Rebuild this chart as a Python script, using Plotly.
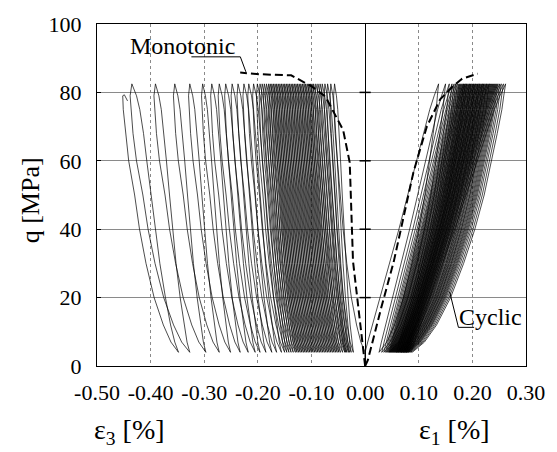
import plotly.graph_objects as go

# ---------------- data ----------------
# stress levels at which each loading / unloading branch is sampled [MPa]
q_levels = [4, 7, 12, 20, 30, 40, 50, 60, 68, 75, 79, 82.5]

# lateral strain eps3 [%]: top (peak) of each cycle and bottom reached after unloading
e3_top = [-0.057, -0.064, -0.070, -0.075, -0.080, -0.084, -0.088, -0.092, -0.096, -0.099,
          -0.102, -0.105, -0.108, -0.111, -0.114, -0.117, -0.120, -0.123, -0.126, -0.129,
          -0.132, -0.135, -0.138, -0.141, -0.144, -0.147, -0.150, -0.153, -0.156, -0.159,
          -0.162, -0.165, -0.168, -0.171, -0.174, -0.177, -0.180, -0.184, -0.188, -0.192,
          -0.196, -0.201, -0.208, -0.217, -0.226, -0.237, -0.248, -0.260, -0.272, -0.286,
          -0.303, -0.327, -0.355, -0.391, -0.435]
e3_bot = [-0.022, -0.026, -0.029, -0.031, -0.034, -0.036, -0.038, -0.042, -0.046, -0.049,
          -0.052, -0.055, -0.058, -0.061, -0.064, -0.067, -0.070, -0.073, -0.076, -0.079,
          -0.082, -0.085, -0.088, -0.091, -0.094, -0.097, -0.100, -0.103, -0.106, -0.109,
          -0.112, -0.115, -0.118, -0.121, -0.124, -0.127, -0.130, -0.134, -0.138, -0.142,
          -0.146, -0.150, -0.156, -0.165, -0.174, -0.185, -0.196, -0.205, -0.218, -0.233,
          -0.251, -0.272, -0.297, -0.327, -0.348]
e3_fail_strain = [-0.449, -0.443]
e3_fail_q = [79.3, 77.5]

# axial strain eps1 [%]: top of each cycle and bottom reached after unloading
e1_top = [0.137, 0.150, 0.157, 0.162, 0.166, 0.169, 0.172, 0.175, 0.177, 0.179,
          0.181, 0.183, 0.184, 0.186, 0.187, 0.189, 0.190, 0.192, 0.194, 0.195,
          0.197, 0.198, 0.200, 0.202, 0.203, 0.205, 0.206, 0.208, 0.210, 0.211,
          0.213, 0.214, 0.216, 0.218, 0.219, 0.221, 0.222, 0.224, 0.226, 0.227,
          0.229, 0.231, 0.232, 0.234, 0.236, 0.238, 0.240, 0.242, 0.244, 0.246,
          0.248, 0.251, 0.254, 0.258, 0.262]
e1_bot = [0.026, 0.031, 0.035, 0.038, 0.040, 0.042, 0.044, 0.045, 0.046, 0.047,
          0.048, 0.049, 0.050, 0.051, 0.052, 0.053, 0.054, 0.055, 0.056, 0.057,
          0.058, 0.059, 0.059, 0.060, 0.061, 0.062, 0.062, 0.063, 0.064, 0.065,
          0.065, 0.066, 0.067, 0.068, 0.068, 0.069, 0.070, 0.071, 0.071, 0.072,
          0.073, 0.074, 0.074, 0.075, 0.076, 0.077, 0.077, 0.078, 0.079, 0.080,
          0.081, 0.082, 0.084, 0.086, 0.088]

# branch shapes read from a representative loop (fractions at each q level)
e3_load_shape = [1.0, 0.86, 0.72, 0.55, 0.40, 0.28, 0.19, 0.08, 0.02, -0.02, -0.03, 0.0]
e3_unload_shape = [1.0, 0.92, 0.83, 0.72, 0.60, 0.50, 0.41, 0.32, 0.25, 0.17, 0.10, 0.0]
e1_load_shape = [0.0, 0.035, 0.10, 0.20, 0.33, 0.46, 0.58, 0.70, 0.79, 0.88, 0.94, 1.0]
e1_unload_shape = [0.0, 0.13, 0.26, 0.41, 0.55, 0.67, 0.77, 0.85, 0.91, 0.96, 0.98, 1.0]

# monotonic test curves
mono_e3 = [0.0, -0.006, -0.012, -0.0226, -0.0287, -0.041, -0.074, -0.099, -0.138, -0.172, -0.196, -0.233]
mono_q3 = [0.0, 8.0, 15.0, 30.6, 59.5, 69.0, 78.8, 81.7, 85.0, 85.2, 85.3, 85.8]
mono_e1 = [0.0, 0.005, 0.030, 0.0535, 0.090, 0.115, 0.140, 0.163, 0.181, 0.210]
mono_q1 = [0.0, 1.7, 17.0, 30.6, 56.6, 70.0, 78.0, 81.7, 84.0, 85.5]

x_ticks = [-0.5, -0.4, -0.3, -0.2, -0.1, 0.0, 0.1, 0.2, 0.3]
x_ticktext = ["-0.50", "-0.40", "-0.30", "-0.20", "-0.10", "0.00", "0.10", "0.20", "0.30"]
y_ticks = [0, 20, 40, 60, 80, 100]

# ---------------- build cyclic paths ----------------
lx, ly = [0.0], [0.0]
prev_b = 0.0
for t, b in zip(e3_top, e3_bot):
    for q, f in zip(q_levels, e3_load_shape):
        lx.append(t + f * (prev_b - t)); ly.append(q)
    for q, f in reversed(list(zip(q_levels, e3_unload_shape))):
        lx.append(t + f * (b - t)); ly.append(q)
    prev_b = b
t_fail = e3_fail_strain[0]
for q, f in zip(q_levels, e3_load_shape):
    if q < e3_fail_q[0]:
        lx.append(t_fail + f * (prev_b - t_fail)); ly.append(q)
lx += e3_fail_strain
ly += e3_fail_q

rx, ry = [0.0], [0.0]
prev_b = 0.0
for t, b in zip(e1_top, e1_bot):
    for q, f in zip(q_levels, e1_load_shape):
        rx.append(prev_b + f * (t - prev_b)); ry.append(q)
    for q, f in reversed(list(zip(q_levels, e1_unload_shape))):
        rx.append(b + f * (t - b)); ry.append(q)
    prev_b = b

FONT = "Liberation Serif"

fig = go.Figure()
line_style = dict(color="black", width=0.7)
fig.add_trace(go.Scatter(x=lx, y=ly, mode="lines", line=line_style, hoverinfo="skip"))
fig.add_trace(go.Scatter(x=rx, y=ry, mode="lines", line=line_style, hoverinfo="skip"))
dash_style = dict(color="black", width=2, dash="8px,4px")
fig.add_trace(go.Scatter(x=mono_e3, y=mono_q3, mode="lines", line=dash_style, hoverinfo="skip"))
fig.add_trace(go.Scatter(x=mono_e1, y=mono_q1, mode="lines", line=dash_style, hoverinfo="skip"))
# small ticks on the zero line
fig.add_trace(go.Scatter(x=[0.0] * 4, y=y_ticks[1:5], mode="markers",
                         marker=dict(symbol="line-ew", size=8, line=dict(color="black", width=1.5)),
                         hoverinfo="skip"))

fig.update_layout(
    width=557, height=452, autosize=False,
    margin=dict(l=97, r=22, t=20, b=86, pad=0),
    paper_bgcolor="white", plot_bgcolor="white",
    showlegend=False,
    font=dict(family=FONT, color="black", size=22),
    xaxis=dict(range=[-0.5, 0.3], tickvals=x_ticks, ticktext=x_ticktext,
               showgrid=True, gridcolor="#8a8a8a", gridwidth=1, griddash="dot",
               zeroline=True, zerolinecolor="black", zerolinewidth=1.2,
               showline=True, linecolor="black", linewidth=1.2, mirror=True,
               ticks="", ticklabelstandoff=6,
               tickfont=dict(family=FONT, size=22, color="black")),
    yaxis=dict(range=[0, 100], tickvals=y_ticks,
               showgrid=True, gridcolor="#8a8a8a", gridwidth=1,
               zeroline=False,
               showline=True, linecolor="black", linewidth=1.2, mirror=True,
               ticks="inside", ticklen=4, tickcolor="black",
               ticklabelstandoff=10,
               tickfont=dict(family=FONT, size=22, color="black")),
    annotations=[
        dict(text="q [MPa]", xref="paper", yref="paper", x=-0.153, y=0.4855,
             textangle=-90, showarrow=False, font=dict(family=FONT, size=26),
             xanchor="center", yanchor="middle"),
        dict(text="ε<sub>3</sub> [%]", xref="paper", yref="paper", x=0.075, y=-0.191,
             showarrow=False, font=dict(family=FONT, size=28),
             xanchor="center", yanchor="middle"),
        dict(text="ε<sub>1</sub> [%]", xref="paper", yref="paper", x=0.833, y=-0.191,
             showarrow=False, font=dict(family=FONT, size=28),
             xanchor="center", yanchor="middle"),
        dict(text="Monotonic", xref="x", yref="y", x=-0.340, y=93.6,
             showarrow=False, font=dict(family=FONT, size=24),
             xanchor="center", yanchor="middle"),
        dict(text="Cyclic", xref="x", yref="y", x=0.2343, y=14.2,
             showarrow=False, font=dict(family=FONT, size=24),
             xanchor="center", yanchor="middle"),
    ],
    shapes=[
        dict(type="path", xref="x", yref="y",
             path="M -0.324,90.4 L -0.2327,90.4 L -0.2223,86.0",
             line=dict(color="black", width=1)),
        dict(type="path", xref="x", yref="y",
             path="M 0.1576,21.7 L 0.174,11.3 L 0.2033,11.3",
             line=dict(color="black", width=1)),
    ],
)

fig.write_html("out.html")
